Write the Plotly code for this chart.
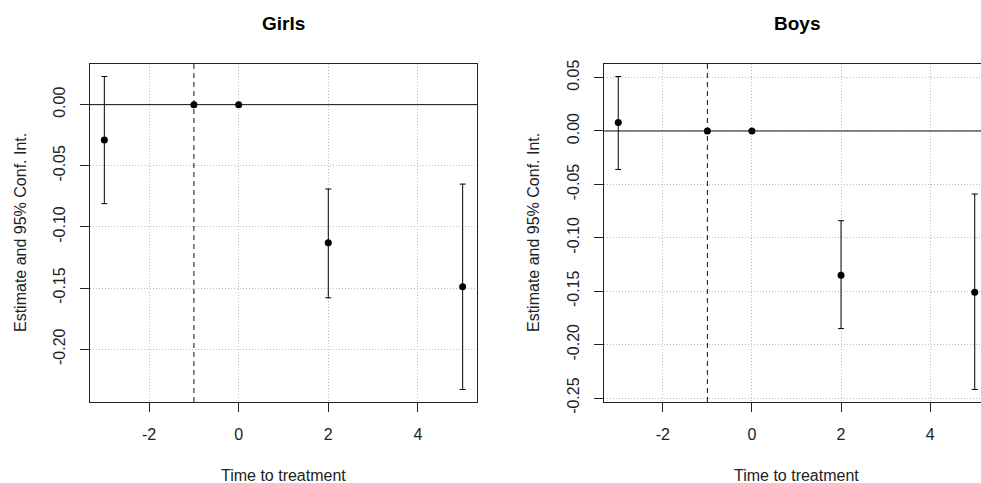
import plotly.graph_objects as go

# ---- data ----
time = [-3, -1, 0, 2, 5]
girls_est = [-0.029, 0.0, 0.0, -0.113, -0.149]
girls_lo = [-0.081, 0.0, 0.0, -0.158, -0.233]
girls_hi = [0.023, 0.0, 0.0, -0.069, -0.065]
boys_est = [0.008, 0.0, 0.0, -0.135, -0.151]
boys_lo = [-0.036, 0.0, 0.0, -0.185, -0.242]
boys_hi = [0.051, 0.0, 0.0, -0.084, -0.059]

x_ticks = [-2, 0, 2, 4]
x_ticktext = ["-2", "0", "2", "4"]
girls_yticks = [-0.20, -0.15, -0.10, -0.05, 0.00]
boys_yticks = [-0.25, -0.20, -0.15, -0.10, -0.05, 0.00, 0.05]
ref_time = -1
titles = ["Girls", "Boys"]
x_title = "Time to treatment"
y_title = "Estimate and 95% Conf. Int."

W, H = 981, 483
FONT = "Liberation Sans, Arial, sans-serif"


def px(x):
    return x / W


def py(y):
    return 1 - y / H


def lbl(v):
    s = f"{v:.2f}"
    return s.replace("\u2212", "-")


def rng(lo, hi):
    a, b = min(lo), max(hi)
    e = 0.04 * (b - a)
    return [a - e, b + e]


fig = go.Figure()

panels = [
    dict(est=girls_est, lo=girls_lo, hi=girls_hi, yt=girls_yticks,
         xd=[px(90), px(477)], xr=[-3.32, 5.32], xa="x", ya="y", cx=283.5, ymir=True),
    dict(est=boys_est, lo=boys_lo, hi=boys_hi, yt=boys_yticks,
         xd=[px(604), 1.0], xr=[-3.32, -3.32 + 8.64 * (981 - 604) / 385.0], xa="x2", ya="y2", cx=796.5, ymir=False),
]

ydom = [py(402), py(64)]
GRID = dict(showgrid=True, gridcolor="#bdbdbd", griddash="1px,2px", gridwidth=1)

for i, p in enumerate(panels):
    plus = [h - e for h, e in zip(p["hi"], p["est"])]
    minus = [e - l for l, e in zip(p["lo"], p["est"])]
    fig.add_trace(go.Scatter(
        x=time, y=p["est"], mode="markers", xaxis=p["xa"], yaxis=p["ya"],
        marker=dict(color="black", size=7),
        error_y=dict(type="data", symmetric=False, array=plus, arrayminus=minus,
                     color="black", thickness=1, width=3),
        showlegend=False, cliponaxis=False, hoverinfo="skip"))
    sfx = "" if i == 0 else "2"
    ax = dict(domain=p["xd"], range=p["xr"], tickvals=x_ticks, ticktext=x_ticktext,
              zeroline=False, showline=True, linecolor="#222", linewidth=1, mirror=True,
              ticks="outside", ticklen=9, tickcolor="#222", ticklabelstandoff=9, automargin=False,
              tickfont=dict(family=FONT, size=16, color="#222"), anchor="y" + sfx, **GRID)
    ay = dict(domain=ydom, range=rng(p["lo"], p["hi"]), tickvals=p["yt"],
              ticktext=[lbl(v) for v in p["yt"]], tickangle=-90, automargin=False,
              zeroline=False, showline=True, linecolor="#222", linewidth=1, mirror=p["ymir"],
              ticks="outside", ticklen=9, tickcolor="#222", ticklabelstandoff=9,
              tickfont=dict(family=FONT, size=16, color="#222"), anchor="x" + sfx, **GRID)
    fig.update_layout(**{"xaxis" + sfx: ax, "yaxis" + sfx: ay})

    # reference lines
    fig.add_shape(type="line", xref=p["xa"] + " domain", yref=p["ya"], x0=0, x1=1, y0=0, y1=0,
                  line=dict(color="#111", width=1), layer="above")
    fig.add_shape(type="line", xref=p["xa"], yref=p["ya"] + " domain", x0=ref_time, x1=ref_time,
                  y0=0, y1=1, line=dict(color="#111", width=1, dash="5px,4px"), layer="above")

    # titles
    fig.add_annotation(text=f"<b>{titles[i]}</b>", x=px(p["cx"]), y=py(24), xref="paper", yref="paper",
                       showarrow=False, font=dict(family=FONT, size=19, color="black"),
                       xanchor="center", yanchor="middle")
    fig.add_annotation(text=x_title, x=px(p["cx"]), y=py(475), xref="paper", yref="paper",
                       showarrow=False, font=dict(family=FONT, size=16, color="#222"),
                       xanchor="center", yanchor="middle")
    ylx = 20 if i == 0 else 533
    fig.add_annotation(text=y_title, x=px(ylx), y=py(233), xref="paper", yref="paper",
                       showarrow=False, textangle=-90, font=dict(family=FONT, size=16, color="#222"),
                       xanchor="center", yanchor="middle")

fig.update_layout(width=W, height=H, margin=dict(l=0, r=0, t=0, b=0, autoexpand=False),
                  paper_bgcolor="white", plot_bgcolor="white", showlegend=False)

fig.write_html("out.html")
